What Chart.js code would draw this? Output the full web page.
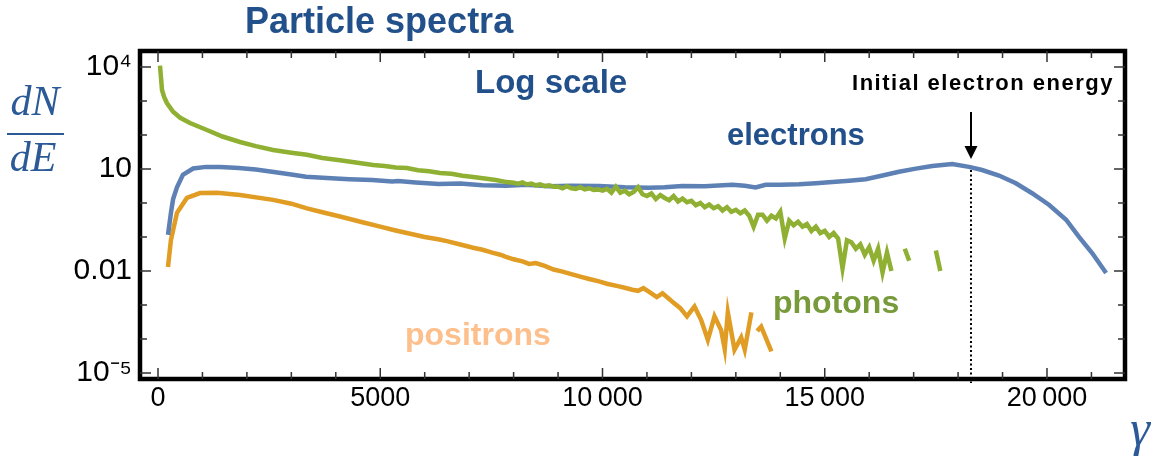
<!DOCTYPE html>
<html><head><meta charset="utf-8">
<script src="https://cdn.jsdelivr.net/npm/chart.js@4.4.1/dist/chart.umd.min.js"></script>
<style>html,body{margin:0;padding:0;background:#fff;overflow:hidden}canvas{display:block}</style>
</head><body>
<canvas id="c" width="1159" height="463" style="width:1159px;height:463px"></canvas>
<script>
// ---- axis ticks ----
const xTickValues = [0, 5000, 10000, 15000, 20000];
const xTickLabels = ['0', '5000', '10\u2009000', '15\u2009000', '20\u2009000'];
const yTickValues = [1e-5, 1e-2, 10, 1e4];
const yTickLabels = ['10\u207B\u2075', '0.01', '10', '10\u2074'];
const initialElectronEnergy = 18290;

// ---- electrons ----
const electronGamma = [225,290,340,427,560,790,1080,1400,1820,2200,2565,3000,3330,3800,4300,4815,5270,5400,5800,6320,6800,7300,7830,8300,8800,9300,9920,10500,11045,11400,11795,12300,12920,13200,13445,13670,14000,14420,14800,15170,15550,15920,16300,16670,17050,17420,17870,18245,18540,18920,19300,19665,20050,20430,20720,21020,21330];
const electronValues = [0.115,0.5,1.3,2.9,6.7,10.3,11.5,11.4,10.7,9.6,8.3,6.9,5.9,5.4,5.0,4.7,4.3,4.4,4.0,3.6,3.7,3.3,3.2,3.4,3.1,3.2,3.16,2.9,2.8,2.9,3.16,3.1,3.45,3.2,2.85,3.4,3.4,3.55,3.8,4.1,4.5,5.0,6.4,8.3,10.2,12.2,14.0,11.5,9.3,6.4,3.8,1.93,0.87,0.32,0.10,0.033,0.0087];

// ---- positrons ----
const positronGamma = [225,290,427,650,945,1330,1845,2590,3000,3350,3700,4095,4600,5000,5300,5600,6000,6300,6500,6800,7090,7300,7500,7700,7830,8000,8200,8350,8500,8700,8900,9100,9300,9500,9700,9920,10100,10370,10500,10670,10800,10920,11050,11220,11350,11500,11600,11750,11900,12070,12220,12370,12520,12670,12750,12820,12970,13120,13200,13350,13420,13480,13570,13800];
const positronValues = [0.013,0.08,0.51,1.4,1.95,2.0,1.72,1.23,0.95,0.69,0.53,0.40,0.27,0.2,0.16,0.13,0.10,0.085,0.075,0.06,0.048,0.042,0.035,0.03,0.026,0.022,0.019,0.016,0.017,0.014,0.011,0.0095,0.008,0.0068,0.0058,0.0049,0.0042,0.0035,0.0032,0.0028,0.0026,0.0031,0.0024,0.0017,0.0022,0.0015,0.00115,0.0008,0.00046,0.0009,0.00036,0.000093,0.00046,0.00018,0.00005,0.0006,0.000048,0.00011,0.000048,0.0006,null,0.00017,0.00023,0.000043];

// ---- photons ----
const photonGamma = [45,90,140,200,340,500,720,1100,1450,1845,2200,2590,3000,3350,3700,4095,4450,4840,5100,5350,5600,5850,6100,6345,6600,6850,7090,7350,7600,7850,
8000,8100,8200,8300,8400,8500,8600,8700,8800,8900,
9000,9100,9200,9300,9400,9500,9600,9700,9800,9900,
10000,10100,10200,10300,10400,10500,10600,10700,10800,10900,
11000,11100,11200,11300,11400,11500,11600,11700,11800,11900,
12000,12100,12200,12300,12400,12500,12600,12700,12800,12900,
13000,13100,13200,13300,13400,13500,13600,13700,13800,13900,
14000,14100,14200,14300,14400,14500,14600,14700,14800,14900,
15000,15100,15200,15300,15400,15500,15600,15700,15800,15900,
16000,16100,16200,16300,16400,16500,16600,16700,16800,16900,
17000,17100,17200,17300,17400,17500,17600];
const photonValues = [11000,2100,1300,870,480,320,225,140,90,62,47,36,30,26,21,18,15.5,13,12.2,11.0,10.7,9.2,8.6,7.6,7.2,6.3,5.8,5.2,4.7,4.1,
3.9,3.7,4.0,3.5,3.7,3.3,3.5,3.1,3.3,3.0,
3.0,2.7,3.1,2.7,2.6,2.9,2.5,2.7,2.4,2.5,
2.3,2.6,2.0,3.0,2.0,2.3,1.8,2.1,2.9,1.8,
1.6,1.9,1.3,1.7,1.4,1.2,1.6,1.1,1.35,1.05,
1.15,0.85,1.0,0.75,0.9,0.7,0.8,0.6,0.75,0.55,
0.63,0.5,0.6,0.42,0.2,0.45,0.45,0.3,0.42,0.35,
0.55,0.09,0.3,0.22,0.28,0.2,0.24,0.15,0.2,0.13,
0.15,0.1,0.13,0.09,0.012,0.08,0.07,0.045,0.06,0.03,
0.05,0.02,0.045,0.009,0.035,0.01,null,null,0.045,0.02,
null,null,null,null,null,0.04,0.01];

const toPts = (g, v) => g.map((gg, i) => ({x: gg, y: v[i]}));

Chart.defaults.font.family = '"Liberation Sans", Arial, sans-serif';
Chart.defaults.color = '#000';

const BLUE_TXT = '#22508a';
const annot = {
  id: 'annot',
  afterDraw(chart) {
    const {ctx, chartArea: a, scales: {x, y}} = chart;
    ctx.save();
    // frame
    ctx.strokeStyle = '#000';
    ctx.lineWidth = 4.5;
    ctx.strokeRect(a.left, a.top, a.right - a.left, a.bottom - a.top);
    // ticks (inward)
    ctx.lineWidth = 1.5;
    ctx.strokeStyle = '#333';
    ctx.beginPath();
    for (let g = 0; g <= 21000; g += 1000) {
      const px = x.getPixelForValue(g);
      const L = xTickValues.includes(g) ? 9 : 5;
      ctx.moveTo(px, a.bottom); ctx.lineTo(px, a.bottom - 2 - L);
      ctx.moveTo(px, a.top); ctx.lineTo(px, a.top + 2 + L);
    }
    for (let e = -5; e <= 4; e++) {
      const v = Math.pow(10, e);
      const py = y.getPixelForValue(v);
      const L = (e === -5 || e === -2 || e === 1 || e === 4) ? 9 : 5;
      ctx.moveTo(a.left, py); ctx.lineTo(a.left + 2 + L, py);
      ctx.moveTo(a.right, py); ctx.lineTo(a.right - 2 - L, py);
    }
    ctx.stroke();

    // dotted vertical line at initial energy
    const xe = x.getPixelForValue(initialElectronEnergy);
    ctx.strokeStyle = '#000';
    ctx.lineWidth = 2;
    ctx.setLineDash([2, 2.5]);
    ctx.beginPath();
    ctx.moveTo(xe, 170); ctx.lineTo(xe, a.bottom + 4);
    ctx.stroke();
    ctx.setLineDash([]);
    // arrow
    ctx.lineWidth = 2;
    ctx.beginPath();
    ctx.moveTo(xe, 112); ctx.lineTo(xe, 148);
    ctx.stroke();
    ctx.fillStyle = '#000';
    ctx.beginPath();
    ctx.moveTo(xe - 6.5, 146); ctx.lineTo(xe + 6.5, 146); ctx.lineTo(xe, 159); ctx.closePath();
    ctx.fill();

    // texts
    ctx.textBaseline = 'alphabetic';
    ctx.textAlign = 'left';
    ctx.fillStyle = BLUE_TXT;
    ctx.font = 'bold 36px "Liberation Sans", Arial, sans-serif';
    ctx.fillText('Particle spectra', 245, 33);
    ctx.font = 'bold 33px "Liberation Sans", Arial, sans-serif';
    ctx.fillText('Log scale', 475, 93);
    ctx.font = 'bold 31px "Liberation Sans", Arial, sans-serif';
    ctx.fillText('electrons', 727, 145);
    ctx.fillStyle = '#779a3b';
    ctx.font = 'bold 32px "Liberation Sans", Arial, sans-serif';
    ctx.fillText('photons', 773, 313);
    ctx.fillStyle = '#fdbf8c';
    ctx.fillText('positrons', 405, 345);

    ctx.fillStyle = '#000';
    ctx.textAlign = 'center';
    ctx.font = 'bold 22px "Liberation Sans", Arial, sans-serif';
    try { ctx.letterSpacing = '1.5px'; } catch (e) {}
    ctx.fillText('Initial electron energy', 983, 90);
    try { ctx.letterSpacing = '0px'; } catch (e) {}

    // axis labels
    ctx.fillStyle = '#2b5a97';
    ctx.font = 'italic 42px "Liberation Serif", "Times New Roman", serif';
    ctx.fillText('dN', 35, 115);
    ctx.fillText('dE', 33, 171);
    ctx.fillRect(7, 133, 57, 2);
    ctx.font = 'italic 50px "Liberation Serif", "Times New Roman", serif';
    ctx.fillText('\u03B3', 1140, 445);
    ctx.restore();
  }
};

new Chart(document.getElementById('c'), {
  type: 'line',
  data: {
    datasets: [
      {label: 'photons', data: toPts(photonGamma, photonValues), borderColor: '#8fb032', borderWidth: 4.5, pointRadius: 0, tension: 0, spanGaps: false},
      {label: 'electrons', data: toPts(electronGamma, electronValues), borderColor: '#5e81b5', borderWidth: 4.5, pointRadius: 0, tension: 0},
      {label: 'positrons', data: toPts(positronGamma, positronValues), borderColor: '#e19c24', borderWidth: 4.5, pointRadius: 0, tension: 0, spanGaps: false}
    ]
  },
  options: {
    responsive: false,
    devicePixelRatio: 1,
    animation: false,
    events: [],
    layout: {padding: {top: 51, right: 34, left: 0, bottom: 0}},
    plugins: {legend: {display: false}, tooltip: {enabled: false}, title: {display: false}},
    scales: {
      x: {
        type: 'linear', position: 'bottom', min: -405, max: 21755,
        grid: {display: false, drawTicks: false}, border: {display: false},
        afterBuildTicks: s => { s.ticks = xTickValues.map(v => ({value: v})); },
        afterFit: s => { s.height = 84; },
        ticks: {font: {size: 27}, color: '#000', padding: 3, maxRotation: 0, autoSkip: false,
          callback: v => { const i = xTickValues.indexOf(v); return i >= 0 ? xTickLabels[i] : ''; }}
      },
      y: {
        type: 'logarithmic', position: 'left', min: Math.pow(10, -5.18), max: Math.pow(10, 4.47),
        grid: {display: false, drawTicks: false}, border: {display: false},
        afterBuildTicks: s => { s.ticks = yTickValues.map(v => ({value: v})); },
        afterFit: s => { s.width = 140; },
        ticks: {font: {size: 30}, color: '#000', padding: 8, autoSkip: false,
          callback: v => { const i = yTickValues.findIndex(t => Math.abs(Math.log10(t) - Math.log10(v)) < 1e-6); return i >= 0 ? yTickLabels[i] : ''; }}
      }
    }
  },
  plugins: [annot]
});
</script>
</body></html>
